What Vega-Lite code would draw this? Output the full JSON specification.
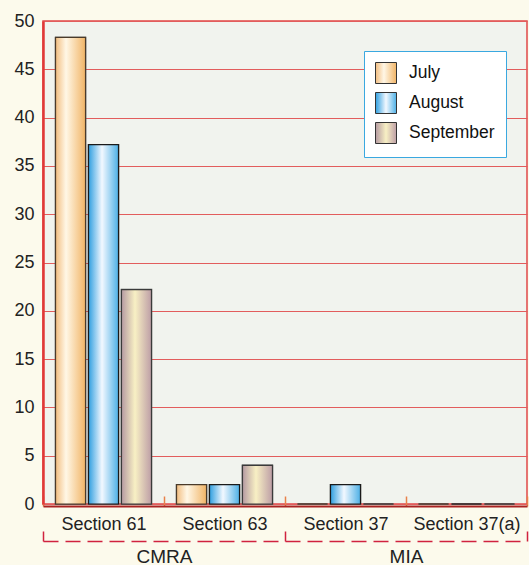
{
  "$schema": "https://vega.github.io/schema/vega-lite/v6.json",
  "width": 484,
  "height": 483,
  "autosize": {"type": "none"},
  "padding": {"left": 43, "top": 21, "right": 2, "bottom": 61},
  "background": "#fcfaec",
  "config": {
    "view": {"fill": "#f1f3ee", "stroke": "#e04848", "strokeWidth": 1.5},
    "font": "Liberation Sans"
  },
  "datasets": {
    "bars": [
      {"section": "Section 61", "month": "July", "value": 48.3},
      {"section": "Section 61", "month": "August", "value": 37.2},
      {"section": "Section 61", "month": "September", "value": 22.2},
      {"section": "Section 63", "month": "July", "value": 2},
      {"section": "Section 63", "month": "August", "value": 2},
      {"section": "Section 63", "month": "September", "value": 4},
      {"section": "Section 37", "month": "July", "value": 0},
      {"section": "Section 37", "month": "August", "value": 2},
      {"section": "Section 37", "month": "September", "value": 0},
      {"section": "Section 37(a)", "month": "July", "value": 0},
      {"section": "Section 37(a)", "month": "August", "value": 0},
      {"section": "Section 37(a)", "month": "September", "value": 0}
    ],
    "groups": [
      {"group": "CMRA"},
      {"group": "MIA"}
    ]
  },
  "layer": [
    {
      "data": {"name": "bars"},
      "encoding": {
        "x": {
          "field": "section", "type": "nominal",
          "sort": ["Section 61", "Section 63", "Section 37", "Section 37(a)"],
          "scale": {"domain": ["Section 61", "Section 63", "Section 37", "Section 37(a)"], "paddingInner": 0, "paddingOuter": 0},
          "axis": {
            "title": null, "labelAngle": 0, "labelFontSize": 18, "labelFont": "Liberation Sans",
            "labelColor": "#222222", "tickBand": "extent", "tickColor": "#e8804a", "tickSize": -10,
            "tickWidth": 1.5, "domainColor": "#a82222", "domainWidth": 2, "labelPadding": 19, "offset": 2
          }
        },
        "xOffset": {
          "field": "month", "type": "nominal",
          "sort": ["July", "August", "September"],
          "scale": {"domain": ["July", "August", "September"], "paddingInner": 0.09, "paddingOuter": 0.38}
        },
        "y": {
          "field": "value", "type": "quantitative",
          "scale": {"domain": [0, 50], "nice": false},
          "axis": {
            "title": null, "values": [0, 5, 10, 15, 20, 25, 30, 35, 40, 45, 50],
            "labelFontSize": 18, "labelColor": "#222222", "ticks": false, "labelPadding": 9,
            "domainColor": "#e03838", "domainWidth": 2.5, "grid": true, "gridColor": "#e25c5c", "gridWidth": 1.2
          }
        }
      },
      "layer": [
        {
          "mark": {"type": "bar", "stroke": "#555555", "strokeWidth": 1.5, "color": "#bbbbbb"},
          "encoding": {
            "opacity": {
              "field": "month", "type": "ordinal",
              "sort": ["July", "August", "September"],
              "scale": {"domain": ["July", "August", "September"], "range": [1, 1, 1]},
              "legend": {
                "title": null, "orient": "none", "legendX": 321, "legendY": 30,
                "fillColor": "white", "strokeColor": "#3aa8e0", "padding": 11,
                "symbolType": "square", "symbolSize": 441, "symbolStrokeColor": "#333333", "symbolStrokeWidth": 1,
                "labelFontSize": 17.5, "labelColor": "#111111", "rowPadding": 4, "labelOffset": 12,
                "encoding": {
                  "symbols": {
                    "fill": {"value": {"expr": "datum.label == 'July' ? {gradient: 'linear', x1: 0, y1: 0, x2: 1, y2: 0, stops: [{offset: 0, color: '#f2bd80'}, {offset: 0.4, color: '#fff7e6'}, {offset: 1, color: '#f1b466'}]} : datum.label == 'August' ? {gradient: 'linear', x1: 0, y1: 0, x2: 1, y2: 0, stops: [{offset: 0, color: '#2f9fe0'}, {offset: 0.5, color: '#f2f8ff'}, {offset: 1, color: '#4db0e6'}]} : {gradient: 'linear', x1: 0, y1: 0, x2: 1, y2: 0, stops: [{offset: 0, color: '#b59aa2'}, {offset: 0.5, color: '#f8f0c4'}, {offset: 1, color: '#bd9ea6'}]}"}},
                    "stroke": {"value": "#333333"}
                  }
                }
              }
            }
          }
        },
        {
          "transform": [{"filter": "datum.month == 'July'"}],
          "mark": {"type": "bar", "stroke": "#4a3a2a", "strokeWidth": 1.2,
            "fill": {"gradient": "linear", "x1": 0, "y1": 0, "x2": 1, "y2": 0, "stops": [
              {"offset": 0, "color": "#f2bd80"}, {"offset": 0.35, "color": "#fff7e6"}, {"offset": 1, "color": "#f1b466"}]}}
        },
        {
          "transform": [{"filter": "datum.month == 'August'"}],
          "mark": {"type": "bar", "stroke": "#1a1a1a", "strokeWidth": 1.2,
            "fill": {"gradient": "linear", "x1": 0, "y1": 0, "x2": 1, "y2": 0, "stops": [
              {"offset": 0, "color": "#2f9fe0"}, {"offset": 0.45, "color": "#f2f8ff"}, {"offset": 1, "color": "#4db0e6"}]}}
        },
        {
          "transform": [{"filter": "datum.month == 'September'"}],
          "mark": {"type": "bar", "stroke": "#3a3a3a", "strokeWidth": 1.2,
            "fill": {"gradient": "linear", "x1": 0, "y1": 0, "x2": 1, "y2": 0, "stops": [
              {"offset": 0, "color": "#b59aa2"}, {"offset": 0.45, "color": "#f8f0c4"}, {"offset": 1, "color": "#bd9ea6"}]}}
        }
      ]
    },
    {
      "data": {"name": "groups"},
      "mark": {"type": "tick", "opacity": 0},
      "encoding": {
        "x": {
          "field": "group", "type": "nominal",
          "scale": {"paddingInner": 0, "paddingOuter": 0},
          "axis": {
            "orient": "bottom", "offset": 37, "title": null, "labelAngle": 0,
            "labelFontSize": 19, "labelFont": "Liberation Sans", "labelColor": "#222222",
            "tickBand": "extent", "tickSize": -10, "tickColor": "#d0223f", "tickWidth": 1.5,
            "domainColor": "#d0223f", "domainWidth": 1.5, "domainDash": [15, 7], "labelPadding": 16, "grid": false
          }
        }
      }
    }
  ],
  "resolve": {"scale": {"x": "independent"}, "axis": {"x": "independent"}}
}
